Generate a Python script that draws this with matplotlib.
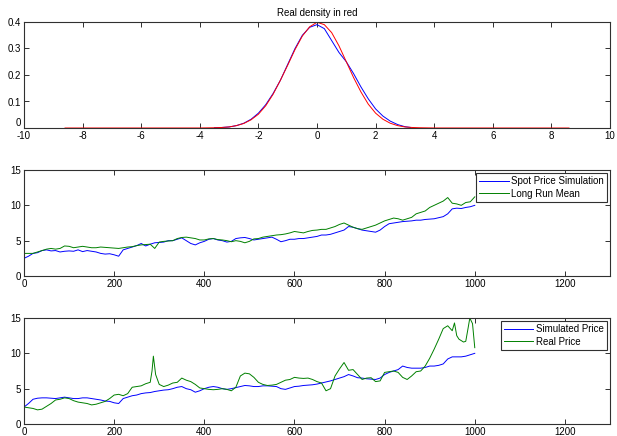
import matplotlib
matplotlib.use("Agg")
from matplotlib import pyplot as plt

plt.rcParams['font.family'] = ['Liberation Sans Narrow', 'Liberation Sans', 'DejaVu Sans']
plt.rcParams['font.size'] = 7
plt.rcParams['axes.unicode_minus'] = False

# ---- top: estimated density (blue) vs real normal density (red)
kde_x = [-3.5, -3.25, -3.0, -2.75, -2.5, -2.25, -2.0, -1.75, -1.5, -1.25, -1.0, -0.75,
         -0.5, -0.25, 0.0, 0.25, 0.5, 0.75, 1.0, 1.25, 1.5, 1.75, 2.0, 2.25, 2.5, 2.75,
         3.0, 3.2]
kde_y = [0.001, 0.002, 0.004, 0.009, 0.018, 0.033, 0.056, 0.088, 0.13, 0.18, 0.24, 0.30,
         0.35, 0.38, 0.39, 0.375, 0.33, 0.285, 0.25, 0.205, 0.155, 0.11, 0.072, 0.045,
         0.026, 0.013, 0.005, 0.002]
real_x = [-8.6, -4.0, -3.5, -3.25, -3.0, -2.75, -2.5, -2.25, -2.0, -1.75, -1.5, -1.25,
          -1.0, -0.75, -0.5, -0.25, 0.0, 0.25, 0.5, 0.75, 1.0, 1.25, 1.5, 1.75, 2.0,
          2.25, 2.5, 2.75, 3.0, 3.25, 3.5, 4.0, 8.6]
real_y = [0.0, 0.0001, 0.001, 0.002, 0.004, 0.009, 0.017, 0.031, 0.052, 0.084, 0.127, 0.18,
          0.237, 0.296, 0.347, 0.382, 0.399, 0.39, 0.36, 0.31, 0.25, 0.19, 0.136, 0.09,
          0.056, 0.033, 0.018, 0.009, 0.004, 0.002, 0.001, 0.0001, 0.0]

# ---- middle: spot price simulation vs long run mean
steps = list(range(0, 1001, 10))
spot_sim = [2.5, 2.8, 3.2, 3.3, 3.6, 3.7, 3.55, 3.6, 3.4, 3.5,
            3.55, 3.5, 3.7, 3.45, 3.6, 3.5, 3.4, 3.2, 3.1, 3.15,
            3.0, 2.8, 3.7, 3.9, 4.1, 4.3, 4.6, 4.25, 4.5, 4.7,
            4.75, 4.8, 5.0, 5.0, 5.2, 5.4, 5.0, 4.6, 4.4, 4.7,
            4.9, 5.2, 5.3, 5.1, 5.0, 4.8, 4.9, 5.3, 5.4, 5.45,
            5.3, 5.1, 5.2, 5.3, 5.4, 5.5, 5.2, 4.85, 5.0, 5.2,
            5.2, 5.3, 5.3, 5.4, 5.5, 5.6, 5.8, 5.8, 5.9, 6.1,
            6.3, 6.5, 7.0, 6.9, 6.7, 6.5, 6.4, 6.3, 6.2, 6.5,
            7.0, 7.4, 7.5, 7.6, 7.7, 7.75, 7.8, 7.9, 7.9, 8.0,
            8.05, 8.1, 8.25, 8.4, 8.8, 9.5, 9.6, 9.55, 9.7, 9.8,
            10.0]
long_run = [3.2, 3.2, 3.2, 3.4, 3.6, 3.8, 3.9, 3.8, 3.9, 4.25,
            4.2, 4.0, 4.1, 4.2, 4.1, 4.0, 4.0, 4.1, 4.05, 4.0,
            3.95, 3.9, 4.0, 4.1, 4.15, 4.3, 4.4, 4.45, 4.5, 3.9,
            4.8, 4.9, 4.95, 5.0, 5.3, 5.45, 5.5, 5.4, 5.3, 5.1,
            5.1, 5.25, 5.3, 5.15, 5.1, 5.0, 4.85, 5.0, 4.9, 4.7,
            4.9, 5.25, 5.3, 5.5, 5.6, 5.7, 5.8, 5.85, 5.95, 6.1,
            6.3, 6.2, 6.1, 6.3, 6.45, 6.5, 6.6, 6.6, 6.8, 7.0,
            7.3, 7.5, 7.2, 6.9, 6.7, 6.6, 6.8, 7.0, 7.2, 7.5,
            7.8, 8.0, 8.2, 8.1, 7.9, 8.1, 8.3, 8.8, 9.0, 9.2,
            9.7, 10.0, 10.3, 10.6, 11.1, 10.3, 10.2, 10.0, 10.4, 10.5,
            11.2]

# ---- bottom: simulated price vs real price
sim_price = [2.4, 2.9, 3.5, 3.65, 3.7, 3.7, 3.65, 3.6, 3.7, 3.8,
             3.7, 3.6, 3.6, 3.7, 3.7, 3.6, 3.5, 3.4, 3.25, 3.2,
             3.0, 2.9, 3.6, 3.8, 4.0, 4.1, 4.3, 4.4, 4.45, 4.6,
             4.7, 4.8, 4.85, 5.0, 5.2, 5.3, 5.0, 4.85, 4.5, 4.7,
             5.0, 5.2, 5.3, 5.2, 5.0, 4.9, 5.0, 5.15, 5.3, 5.45,
             5.4, 5.3, 5.3, 5.4, 5.4, 5.35, 5.3, 5.0, 4.9, 5.1,
             5.3, 5.35, 5.45, 5.5, 5.55, 5.65, 5.8, 5.95, 6.1, 6.3,
             6.5, 6.7, 7.0, 6.8, 6.55, 6.5, 6.4, 6.35, 6.3, 6.5,
             7.0, 7.3, 7.5, 7.7, 8.2, 8.0, 7.9, 7.9, 7.9, 8.0,
             8.2, 8.2, 8.3, 8.5, 9.2, 9.5, 9.5, 9.5, 9.6, 9.8,
             10.0]
real_steps = [0, 10, 20, 30, 40, 50, 60, 70, 80, 90, 100, 110, 120, 130, 140, 150,
              160, 170, 180, 190, 200, 210, 220, 230, 240, 250, 260, 270, 280, 284,
              287, 292, 300, 310, 320, 330, 340, 350, 360, 370, 380, 390, 400, 410,
              420, 430, 440, 450, 460, 470, 480, 490, 500, 510, 520, 530, 540, 550,
              560, 570, 580, 590, 600, 610, 620, 630, 640, 650, 660, 670, 680, 690,
              700, 710, 720, 730, 740, 750, 760, 770, 780, 790, 800, 810, 820, 830,
              840, 850, 860, 870, 880, 890, 900, 910, 920, 930, 940, 950, 955, 960,
              965, 970, 975, 980, 985, 989, 995, 1000]
real_price = [2.4, 2.3, 2.2, 2.0, 2.1, 2.5, 2.9, 3.4, 3.5, 3.7, 3.6, 3.3, 3.1, 3.0, 2.9, 2.7,
              2.8, 3.0, 3.2, 3.6, 4.1, 4.2, 4.0, 4.3, 5.2, 5.3, 5.4, 5.7, 5.9, 7.5,
              9.6, 7.0, 5.6, 5.3, 5.5, 5.8, 5.9, 6.5, 6.2, 6.0, 5.6, 5.1, 5.0, 4.9,
              4.85, 4.9, 5.0, 4.9, 4.7, 5.2, 6.8, 7.2, 7.1, 6.6, 5.9, 5.6, 5.45, 5.5,
              5.6, 5.9, 6.2, 6.3, 6.6, 6.5, 6.45, 6.5, 6.3, 6.0, 5.8, 4.7, 5.0, 6.8,
              7.8, 8.7, 7.6, 7.7, 7.0, 6.3, 6.5, 6.55, 6.0, 6.1, 7.3, 7.4, 7.5, 7.3,
              6.6, 6.3, 6.8, 7.4, 7.5, 8.2, 9.3, 10.6, 12.0, 13.5, 13.9, 13.2, 14.3, 12.5,
              12.0, 11.8, 11.6, 11.7, 13.5, 15.0, 14.2, 10.8]

blue = (0, 0, 1)
green = (0, 0.5, 0)
red = (1, 0, 0)


def matlab_axes(ax):
    for s in ax.spines.values():
        s.set_color('#303030')
        s.set_linewidth(0.8)
    ax.tick_params(direction='in', length=3.5, width=0.7, color='#303030',
                   top=True, right=True, pad=2, labelsize=7)


def matlab_legend(ax):
    leg = ax.legend(loc='upper right', fontsize=7, fancybox=False, framealpha=1,
                    edgecolor='#303030', borderaxespad=0.3, handlelength=3.0,
                    borderpad=0.35, labelspacing=0.25, handletextpad=0.25)
    leg.get_frame().set_linewidth(0.8)


fig = plt.figure(figsize=(6.17, 4.36), dpi=100)
W = 617.0
H = 436.0
left = 24 / W
width = 586 / W
height = 106 / H

ax1 = fig.add_axes([left, (H - 128) / H, width, height])
ax1.plot(kde_x, kde_y, color=blue, lw=0.7)
ax1.plot(real_x, real_y, color=red, lw=0.7)
ax1.set_xlim(-10, 10)
ax1.set_ylim(0, 0.4)
ax1.set_xticks(range(-10, 11, 2))
ax1.set_yticks([0, 0.1, 0.2, 0.3, 0.4])
ax1.set_yticklabels(['0', '0.1', '0.2', '0.3', '0.4'])
ax1.set_title('Real density in red', fontsize=7, pad=4)
matlab_axes(ax1)
# the "0" sits just above the axis line so it clears "-10"
ax1.get_yticklabels()[0].set_verticalalignment('bottom')

ax2 = fig.add_axes([left, (H - 276) / H, width, height])
ax2.plot(steps, spot_sim, color=blue, lw=0.7, label='Spot Price Simulation')
ax2.plot(steps, long_run, color=green, lw=0.7, label='Long Run Mean')
ax2.set_xlim(0, 1300)
ax2.set_ylim(0, 15)
ax2.set_xticks(range(0, 1201, 200))
ax2.set_yticks([0, 5, 10, 15])
matlab_axes(ax2)
matlab_legend(ax2)

ax3 = fig.add_axes([left, (H - 424) / H, width, height])
ax3.plot(steps, sim_price, color=blue, lw=0.7, label='Simulated Price')
ax3.plot(real_steps, real_price, color=green, lw=0.7, label='Real Price')
ax3.set_xlim(0, 1300)
ax3.set_ylim(0, 15)
ax3.set_xticks(range(0, 1201, 200))
ax3.set_yticks([0, 5, 10, 15])
matlab_axes(ax3)
matlab_legend(ax3)

fig.savefig('out.png', dpi=100)
